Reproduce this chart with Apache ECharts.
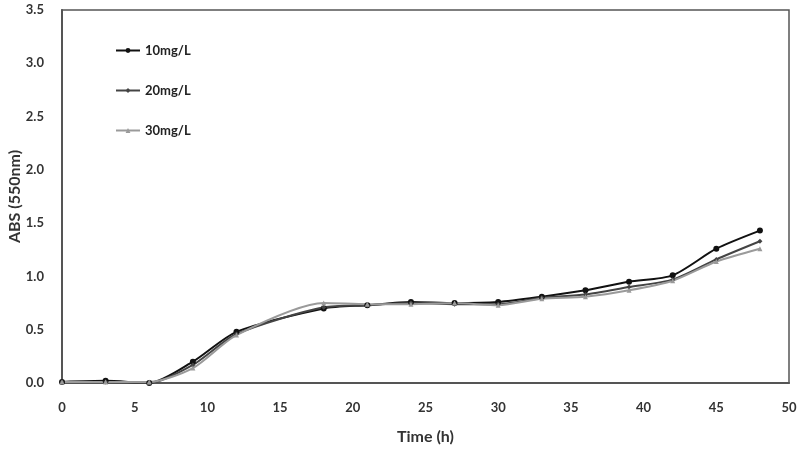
<!DOCTYPE html>
<html style="height: 100%">
<head>
    <meta charset="utf-8">
    <script src="https://cdn.jsdelivr.net/npm/echarts@6/dist/echarts.min.js"></script>
</head>
<body style="height: 100%; margin: 0; background: #fff">
<div id="container" style="width: 806px; height: 450px"></div>

<script type="text/javascript">
    var timeH = [0, 3, 6, 9, 12, 18, 21, 24, 27, 30, 33, 36, 39, 42, 45, 48];
    var abs10 = [0.01, 0.02, 0.00, 0.20, 0.48, 0.70, 0.73, 0.76, 0.75, 0.76, 0.81, 0.87, 0.95, 1.01, 1.26, 1.43];
    var abs20 = [0.01, 0.01, 0.00, 0.17, 0.46, 0.71, 0.73, 0.75, 0.74, 0.74, 0.80, 0.83, 0.90, 0.97, 1.16, 1.33];
    var abs30 = [0.01, 0.01, 0.01, 0.14, 0.45, 0.75, 0.74, 0.74, 0.75, 0.73, 0.79, 0.81, 0.87, 0.96, 1.14, 1.26];
    var seriesNames = ['10mg/L', '20mg/L', '30mg/L'];

    function pairs(arr) {
        return timeH.map(function (t, i) { return [t, arr[i]]; });
    }

    var font = 'Lato';
    var myChart = echarts.init(document.getElementById('container'));

    function line(name, data, color, symbol, size) {
        return {
            name: name,
            type: 'line',
            smooth: 0.25,
            data: pairs(data),
            symbol: symbol,
            symbolSize: size,
            lineStyle: { color: color, width: 2 },
            itemStyle: { color: color }
        };
    }

    myChart.setOption({
        animation: false,
        grid: {
            left: 62, right: 17, top: 10, bottom: 67,
            outerBoundsMode: 'none',
            containLabel: false,
            show: true, borderColor: '#555', borderWidth: 1.5
        },
        legend: {
            orient: 'vertical',
            left: 110, top: 39,
            itemGap: 27,
            itemWidth: 24, itemHeight: 6,
            data: seriesNames,
            textStyle: { fontFamily: font, fontWeight: 'bold', fontSize: 13, color: '#222' }
        },
        xAxis: {
            type: 'value',
            min: 0, max: 50, interval: 5,
            name: 'Time (h)',
            nameLocation: 'middle',
            nameGap: 46,
            nameMoveOverlap: false,
            nameTextStyle: { fontFamily: font, fontWeight: 'bold', fontSize: 16, color: '#333' },
            axisLine: { show: true, lineStyle: { color: '#555', width: 2 } },
            axisTick: { show: false },
            splitLine: { show: false },
            axisLabel: { fontFamily: font, fontWeight: 'bold', fontSize: 13, color: '#333', margin: 18 }
        },
        yAxis: {
            type: 'value',
            min: 0, max: 3.5, interval: 0.5,
            name: 'ABS (550nm)',
            nameLocation: 'middle',
            nameGap: 39,
            nameMoveOverlap: false,
            nameTextStyle: { fontFamily: font, fontWeight: 'bold', fontSize: 16, color: '#333' },
            axisLine: { show: true, lineStyle: { color: '#555', width: 2 } },
            axisTick: { show: false },
            splitLine: { show: false },
            axisLabel: {
                fontFamily: font, fontWeight: 'bold', fontSize: 13, color: '#333', margin: 18,
                formatter: function (v) { return v.toFixed(1); }
            }
        },
        series: [
            line(seriesNames[0], abs10, '#111', 'circle', 6),
            line(seriesNames[1], abs20, '#444', 'diamond', 5),
            line(seriesNames[2], abs30, '#9a9a9a', 'triangle', 5)
        ]
    });
</script>
</body>
</html>
